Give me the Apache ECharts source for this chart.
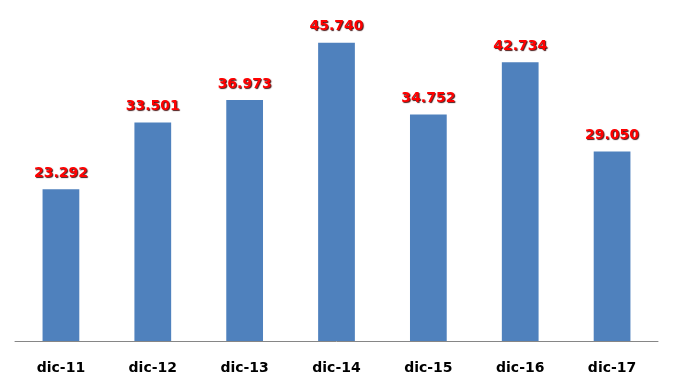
<!DOCTYPE html>
<html><head><meta charset="utf-8">
<script src="https://cdn.jsdelivr.net/npm/echarts@6/dist/echarts.min.js"></script>
<style>html,body{margin:0;padding:0;background:#fff}#c{width:673px;height:386px}</style>
</head><body><div id="c"></div>
<script>
const categories = ['dic-11','dic-12','dic-13','dic-14','dic-15','dic-16','dic-17'];
const values = [23292, 33501, 36973, 45740, 34752, 42734, 29050];

function fmt(v){ return String(v).replace(/\B(?=(\d{3})+(?!\d))/g, '.'); }

const chart = echarts.init(document.getElementById('c'), null, {renderer:'canvas'});
chart.setOption({
  animation:false,
  grid:{left:15, right:15, top:15, bottom:45},
  xAxis:{type:'category', data:categories,
    axisLine:{lineStyle:{color:'#868686', width:1}},
    axisTick:{show:false},
    axisLabel:{color:'#000', fontFamily:'DejaVu Sans', fontWeight:'bold', fontSize:14, margin:20}},
  yAxis:{type:'value', min:0, max:50000, show:false, splitLine:{show:false}},
  series:[{type:'bar', data:values, barWidth:'40%',
    itemStyle:{color:'#4F81BD'},
    label:{show:true, position:'top', distance:9, formatter:p=>fmt(p.value),
      color:'#FF0000', fontFamily:'DejaVu Sans', fontWeight:'bold', fontSize:14,
      textShadowColor:'rgba(60,0,0,0.9)', textShadowOffsetX:1, textShadowOffsetY:1, textShadowBlur:1}}]
});
</script></body></html>
